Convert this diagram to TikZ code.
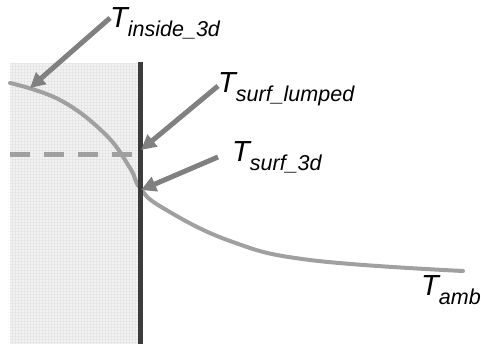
\documentclass[tikz,border=0pt]{standalone}
\usepackage{fontspec}
\setmainfont{Liberation Sans}
\usetikzlibrary{arrows.meta}
\definecolor{curvegray}{HTML}{A0A0A0}
\definecolor{arrowgray}{HTML}{808080}
\definecolor{wallgray}{HTML}{3C3C3C}
\definecolor{solidfill}{HTML}{F3F3F3}
\definecolor{gridgray}{HTML}{E6E6E6}
\newcommand\tlab[1]{{\fontsize{29pt}{30pt}\selectfont\itshape T}\raisebox{-9pt}{\fontsize{21.5pt}{22pt}\selectfont\itshape #1}}
\tikzset{
  pointer/.style={draw=arrowgray, line width=5pt, -{Triangle[length=15pt,width=15pt]}},
  lab/.style={anchor=base west, inner sep=0pt, text=black},
}
\begin{document}
\begin{tikzpicture}[x=1pt,y=-1pt]
\useasboundingbox (0,0) rectangle (481,344);
% shaded solid region
\fill[solidfill] (10,63) rectangle (138,344);
\draw[gridgray, line width=0.3pt, step=3pt] (10,63) grid (138,344);
% dashed lumped temperature
\coordinate (d0) at (10,155);
\coordinate (d1) at (138,155);
\draw[curvegray, line width=5pt, dash pattern=on 20pt off 14pt] (d0) -- (d1);
% temperature curve
\draw[curvegray, line width=4pt, line cap=round] plot[smooth, tension=0.7] coordinates {
 (10,83) (60,100) (105,134) (130,168) (140,188) (163,208)
 (230,241) (310,260) (463,271)};
% wall
\coordinate (w0) at (140.5,62);
\coordinate (w1) at (140.5,344);
\draw[wallgray, line width=4.5pt] (w0) -- (w1);
% labels
\node[lab] (tin) at (110,28) {\tlab{inside\_3d}};
\node[lab] (tsl) at (218,93) {\tlab{surf\_lumped}};
\node[lab] (ts3) at (232,162) {\tlab{surf\_3d}};
\node[lab] (tam) at (421,295) {\tlab{amb}};
% arrows
\coordinate (a1s) at (110,18); \coordinate (a1e) at (30,88);
\coordinate (a2s) at (218,86); \coordinate (a2e) at (141,150);
\coordinate (a3s) at (218,157); \coordinate (a3e) at (141,190);
\draw[pointer] (a1s) -- (a1e);
\draw[pointer] (a2s) -- (a2e);
\draw[pointer] (a3s) -- (a3e);
\end{tikzpicture}
\end{document}
